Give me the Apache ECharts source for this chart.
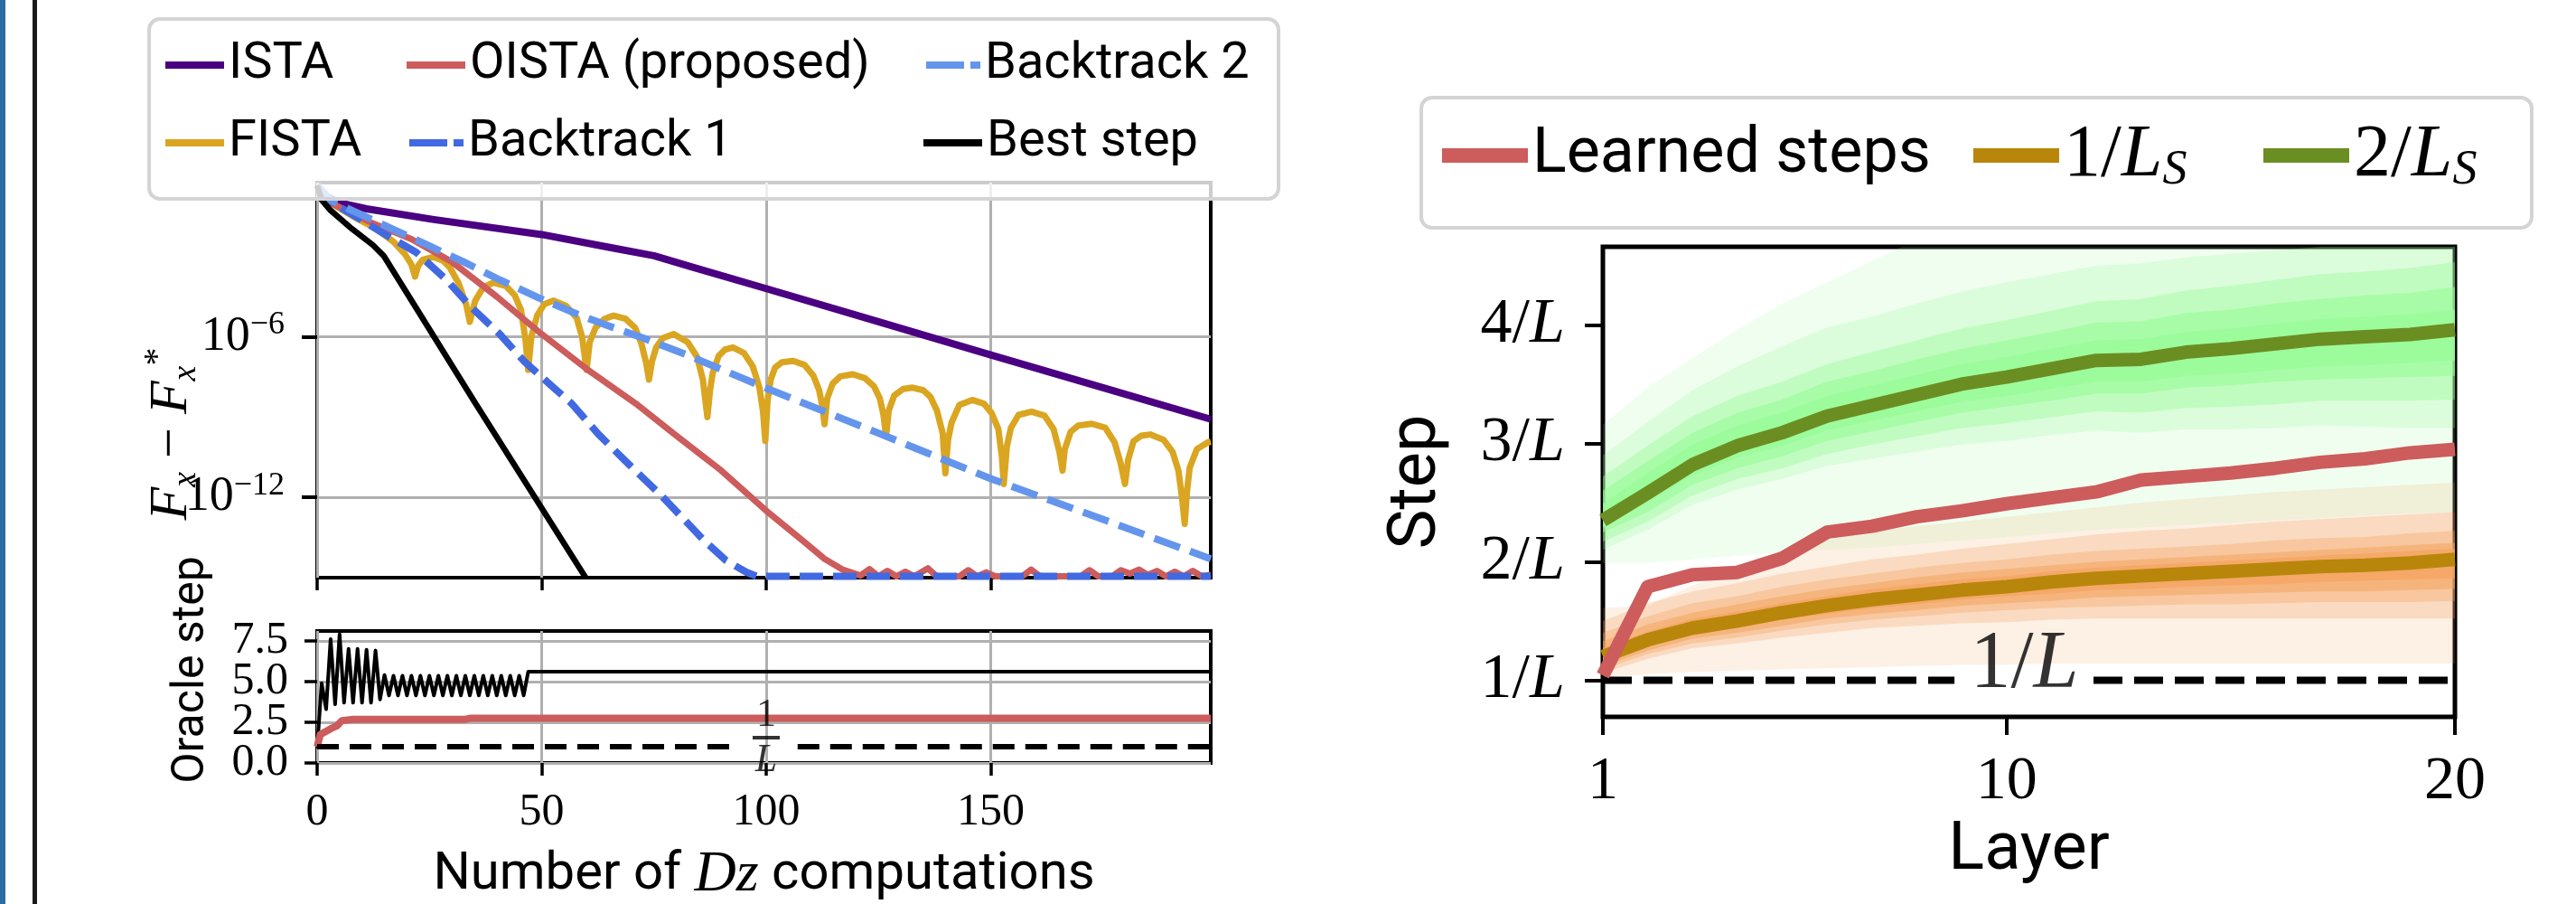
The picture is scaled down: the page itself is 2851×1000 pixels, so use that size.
<!DOCTYPE html>
<html>
<head>
<meta charset="utf-8">
<title>chart</title>
<script src="https://cdn.jsdelivr.net/npm/echarts@6.0.0/dist/echarts.min.js"></script>
<style>
html,body{margin:0;padding:0;background:#ffffff;}
#chart{width:2851px;height:1000px;}
</style>
</head>
<body>
<div id="chart"></div>
<script>
// ---------------- LEFT PANEL DATA ----------------
// y values are log10(F_x - F_x^*), x = number of Dz computations
const istaData = [[0,-0.35],[2,-0.75],[5,-1.0],[11,-1.22],[26,-1.62],[50,-2.18],[66,-2.69],[75,-2.97],[84,-3.42],[100,-4.2],[125,-5.44],[150,-6.68],[175,-7.9],[199,-9.08]];
const fistaData = [[0,-0.35],[3,-1.0],[8,-1.5],[13,-1.95],[17,-2.45],[19.5,-2.9],[21,-3.3],[21.8,-3.75],
[22.5,-3.35],[23.5,-3.12],[25.8,-3.02],[28,-3.15],[29.5,-3.4],[31.5,-4.0],[33.2,-4.8],[34,-5.44],
[35.2,-4.65],[37,-4.15],[39.2,-3.98],[42,-4.1],[44,-4.45],[45.4,-5.0],[46.4,-6.1],[47,-7.24],
[47.7,-6.0],[49,-5.2],[50.6,-4.78],[52.6,-4.65],[55.5,-4.85],[57.8,-5.3],[59,-6.0],[60,-7.24],
[60.7,-6.2],[62,-5.66],[64,-5.33],[66,-5.21],[68.7,-5.33],[70.8,-5.66],[72.2,-6.25],[73.3,-7.0],[73.9,-7.6],
[74.6,-6.9],[75.5,-6.4],[77,-6.05],[79.4,-5.9],[82.5,-6.2],[84.6,-6.75],[85.9,-7.6],[86.9,-9.0],
[87.5,-8.0],[88.1,-7.35],[89.4,-6.72],[90.8,-6.48],[92.6,-6.4],[95,-6.6],[97,-7.1],[98.5,-7.9],[99.3,-8.8],[99.8,-9.89],
[100.3,-8.4],[101,-7.6],[102,-7.15],[103.5,-6.95],[106,-6.9],[108.5,-7.05],[110.5,-7.45],[111.8,-8.0],[112.5,-8.6],[113,-9.27],
[113.6,-8.3],[114.8,-7.75],[116.5,-7.48],[119.3,-7.4],[122,-7.55],[124,-7.85],[125.3,-8.3],[126.1,-8.9],[126.7,-9.72],
[127.3,-8.75],[128.5,-8.2],[130.5,-7.95],[132.6,-7.9],[135,-8.0],[136.6,-8.25],[138,-8.75],[139.3,-9.6],[139.9,-11.1],
[140.5,-9.85],[141.3,-9.2],[143,-8.55],[145.9,-8.36],[148.5,-8.5],[150.2,-8.85],[151.7,-9.45],[152.5,-10.5],[152.9,-11.5],
[153.6,-10.1],[154.5,-9.4],[156.2,-8.92],[159.1,-8.8],[162,-8.95],[164,-9.45],[165.3,-10.3],[166,-11.0],
[166.5,-10.2],[167.8,-9.55],[169.5,-9.32],[172.5,-9.25],[175.5,-9.4],[177.6,-9.95],[178.9,-10.7],[179.9,-11.5],
[180.6,-10.6],[181.8,-9.9],[183.5,-9.7],[185.5,-9.65],[188.5,-9.85],[190.5,-10.3],[191.8,-11.0],[192.6,-12.0],[193.2,-12.99],
[193.7,-11.8],[194.3,-10.9],[195.9,-10.2],[198.3,-9.95],[199,-9.92]];
const oistaData = [[0,-0.35],[3,-1.0],[12,-1.73],[21,-2.35],[30,-3.2],[40,-4.5],[50,-5.9],[60,-7.2],[71,-8.5],[80,-9.7],[90,-11.0],[100,-12.5],[108,-13.6],[113,-14.3],[117,-14.7],
[121,-14.92],[123,-14.68],[125,-14.95],[127,-14.75],[129,-14.95],[131,-14.78],[133,-14.95],[136,-14.65],[138,-14.95],[143,-14.95],[145,-14.72],[147,-14.95],[149,-14.8],[151,-14.95],
[157,-14.95],[159,-14.7],[161,-14.95],[170,-14.95],[172,-14.72],[174,-14.95],[177,-14.95],[179,-14.72],[181,-14.85],[183,-14.7],[185,-14.9],[187,-14.75],[189,-14.95],[191,-14.78],[193,-14.95],[195,-14.75],[197,-14.95],[199,-14.9]];
const backtrack1Data = [[0,-0.35],[3,-0.95],[9,-1.55],[14.4,-2.1],[22.1,-2.85],[28.8,-3.87],[34.2,-4.88],[40.6,-5.89],[46,-6.9],[52.3,-7.85],[56.7,-8.5],[62.7,-9.65],[69,-10.7],[76.1,-11.84],[81,-12.7],[86.1,-13.6],[91,-14.35],[95.6,-14.8],[98,-14.95],[199,-14.95]];
const backtrack2Data = [[0,-0.35],[3,-0.9],[7,-1.22],[15.8,-1.9],[24.5,-2.57],[32.5,-3.19],[40.6,-3.87],[49.3,-4.54],[58,-5.16],[66,-5.66],[72.8,-6.06],[82.2,-6.67],[100,-7.92],[125,-9.6],[150,-11.3],[177.7,-12.99],[199,-14.3]];
const bestStepData = [[0,-0.35],[1,-0.89],[3,-1.28],[7.7,-1.96],[12.4,-2.57],[14.8,-2.97],[35.2,-8.47],[59.8,-15.0]];

// oracle step panel
const oracleBestData = [[0,0.9],[1,4.9],[2,3.3],[3,7.6],[4,3.6],[5,7.9],[6,3.7],[7,7.0],[8,3.7],[9,7.0],[10,3.7],[11,6.95],[12,3.7],[13,6.9],[14,3.9],[15,5.4],
[16,4.15],[17,5.35],[18,4.15],[19,5.35],[20,4.15],[21,5.35],[22,4.15],[23,5.35],[24,4.15],[25,5.35],[26,4.15],[27,5.35],[28,4.15],[29,5.35],[30,4.15],[31,5.35],
[32,4.15],[33,5.35],[34,4.15],[35,5.35],[36,4.15],[37,5.35],[38,4.15],[39,5.35],[40,4.15],[41,5.35],[42,4.15],[43,5.35],[44,4.15],[45,5.35],[46,4.15],[47,5.6],[199,5.6]];
const oracleLearnedData = [[0,1.0],[0.7,1.75],[3,2.1],[4.5,2.3],[5.5,2.6],[8,2.68],[33,2.68],[34,2.74],[199,2.74]];
const oracleInvLData = [[0,1],[93,1],[100,'-'],[107,1],[199,1]];
const oracleInvLLabel = [[100,1]];

const topYTicks = [-12,-6];
const xTicks = [0,50,100,150];
const oracleTicks = [0,2.5,5,7.5];
const oracleLabelsA = [0,5];
const oracleLabelsB = [2.5,7.5];

// ---------------- RIGHT PANEL DATA ----------------
const layers = [1,2,3,4,5,6,7,8,9,10,11,12,13,14,15,16,17,18,19,20];
const learnedSteps = [1.04,1.79,1.89,1.91,2.03,2.25,2.30,2.38,2.43,2.49,2.54,2.59,2.69,2.72,2.75,2.79,2.84,2.87,2.92,2.95];
const oneOverLs = [1.20,1.34,1.44,1.50,1.57,1.63,1.68,1.72,1.76,1.79,1.83,1.86,1.88,1.90,1.92,1.94,1.96,1.97,1.99,2.02];
const twoOverLs = [2.35,2.58,2.82,2.98,3.09,3.23,3.32,3.41,3.50,3.56,3.63,3.70,3.71,3.77,3.80,3.84,3.88,3.90,3.92,3.96];
// quantile bands of 2/L_S (outer -> inner)
const green1Lo = [1.99,1.99,2.02,2.05,2.08,2.10,2.12,2.15,2.18,2.21,2.24,2.27,2.29,2.31,2.33,2.35,2.37,2.39,2.41,2.42];
const green1Hi = [3.16,3.47,3.72,3.96,4.18,4.36,4.54,4.72,4.85,4.95,5.02,5.08,5.12,5.16,5.20,5.22,5.25,5.28,5.30,5.32];
const green2Lo = [2.10,2.27,2.48,2.61,2.70,2.81,2.87,2.93,2.99,3.02,3.07,3.11,3.09,3.12,3.12,3.13,3.15,3.14,3.13,3.13];
const green2Hi = [2.90,3.18,3.45,3.65,3.82,3.98,4.07,4.18,4.28,4.36,4.43,4.50,4.52,4.57,4.60,4.63,4.66,4.68,4.70,4.73];
const green3Lo = [2.17,2.34,2.56,2.70,2.79,2.91,2.99,3.06,3.13,3.17,3.22,3.27,3.26,3.30,3.31,3.33,3.36,3.36,3.36,3.37];
const green3Hi = [2.72,2.98,3.23,3.40,3.52,3.67,3.77,3.87,3.97,4.04,4.12,4.20,4.22,4.29,4.33,4.38,4.43,4.45,4.48,4.53];
const green4Lo = [2.25,2.42,2.65,2.79,2.89,3.02,3.10,3.18,3.26,3.31,3.36,3.42,3.42,3.47,3.49,3.52,3.54,3.55,3.56,3.57];
const green4Hi = [2.60,2.85,3.09,3.26,3.37,3.52,3.61,3.71,3.80,3.87,3.94,4.02,4.03,4.10,4.13,4.18,4.22,4.25,4.27,4.32];
const green5Lo = [2.29,2.50,2.73,2.88,2.98,3.11,3.19,3.27,3.35,3.40,3.46,3.52,3.52,3.57,3.59,3.62,3.65,3.66,3.68,3.70];
const green5Hi = [2.49,2.75,2.99,3.15,3.26,3.40,3.49,3.58,3.67,3.73,3.80,3.87,3.88,3.94,3.97,4.01,4.05,4.07,4.09,4.13];
// quantile bands of 1/L_S (outer -> inner)
const orange1Lo = [1.02,1.05,1.07,1.08,1.09,1.10,1.11,1.12,1.13,1.13,1.14,1.14,1.14,1.14,1.14,1.14,1.14,1.14,1.14,1.14];
const orange1Hi = [1.61,1.63,1.80,1.92,2.02,2.18,2.26,2.30,2.34,2.38,2.42,2.46,2.50,2.53,2.56,2.59,2.61,2.63,2.65,2.67];
const orange2Lo = [1.06,1.18,1.27,1.31,1.36,1.40,1.44,1.46,1.48,1.49,1.51,1.52,1.52,1.52,1.52,1.52,1.52,1.52,1.52,1.52];
const orange2Hi = [1.50,1.65,1.75,1.82,1.90,1.96,2.02,2.06,2.11,2.15,2.19,2.23,2.26,2.28,2.31,2.34,2.36,2.38,2.40,2.42];
const orange3Lo = [1.09,1.22,1.31,1.36,1.42,1.47,1.51,1.54,1.57,1.59,1.61,1.62,1.63,1.64,1.64,1.65,1.66,1.66,1.66,1.67];
const orange3Hi = [1.40,1.54,1.65,1.71,1.79,1.85,1.90,1.95,1.99,2.02,2.06,2.09,2.11,2.13,2.15,2.18,2.20,2.21,2.24,2.26];
const orange4Lo = [1.12,1.25,1.35,1.40,1.46,1.52,1.56,1.59,1.63,1.65,1.67,1.70,1.71,1.72,1.73,1.74,1.75,1.75,1.76,1.77];
const orange4Hi = [1.33,1.47,1.57,1.64,1.71,1.77,1.82,1.87,1.91,1.94,1.97,2.00,2.02,2.04,2.06,2.08,2.10,2.12,2.14,2.16];
const orange5Lo = [1.15,1.29,1.38,1.44,1.51,1.56,1.61,1.64,1.68,1.71,1.73,1.76,1.77,1.79,1.80,1.81,1.83,1.84,1.85,1.86];
const orange5Hi = [1.27,1.41,1.52,1.58,1.65,1.71,1.77,1.81,1.85,1.88,1.92,1.95,1.97,1.99,2.01,2.03,2.05,2.07,2.09,2.11];
const invLLine = [[1,1],[8.84,1],[10.4,'-'],[11.94,1],[20,1]];
const invLLabel = [[10.4,1]];
const layerTicks = [1,10,20];
const stepTicks = [1,2,3,4];

// ---------------- STYLE ----------------
const C = {ista:'#4B0082', fista:'#DAA520', oista:'#CD5C5C', bt1:'#4169E1', bt2:'#6495ED', best:'#000000',
           learned:'#CD5C5C', one:'#B8860B', two:'#6B8E23'};
const SERIF = 'Liberation Serif';
const SANS = 'Roboto';

function pairs(xs, ys){ return xs.map((x,i)=>[x, ys[i]]); }

function lineSeries(name, data, color, width, dash, xi, z){
  return {name, type:'line', xAxisIndex:xi, yAxisIndex:xi, data, showSymbol:false, symbol:'none',
    lineStyle:{color, width, type: dash || 'solid', join:'round', cap:'butt'},
    itemStyle:{color}, z: z || 3, silent:true, animation:false, clip:true};
}

function band(lo, hi, color){
  return {type:'custom', xAxisIndex:2, yAxisIndex:2, silent:true, z:1, animation:false, clip:true,
    data:[0],
    renderItem:function(params, api){
      const pts=[];
      for(let i=0;i<layers.length;i++) pts.push(api.coord([layers[i], hi[i]]));
      for(let i=layers.length-1;i>=0;i--) pts.push(api.coord([layers[i], lo[i]]));
      const cs = params.coordSys;
      return {type:'polygon', shape:{points:pts}, style:{fill:color, stroke:null},
        clipPath:{type:'rect', shape:{x:cs.x, y:cs.y, width:cs.width, height:cs.height}}};
    }};
}
const gA=[0.15,0.23,0.41,0.6,0.8], oA=[0.16,0.27,0.35,0.55,0.72];
const gCol=a=>'rgba(152,251,152,'+a+')', oCol=a=>'rgba(244,164,96,'+a+')';

const legendText = {color:'#000', fontFamily:SANS, fontSize:56, lineHeight:60};
function leftLegend(name, left, top, icon, w){
  return {data:[name], left, top, orient:'horizontal', padding:0, itemGap:0, itemWidth:w||65, itemHeight:8,
    icon, selectedMode:false, z:20, textStyle:legendText, itemStyle:{borderWidth:0}};
}
const solidIcon='path://M0,0H65V8H0Z';
const dashIcon='path://M0,0H42V8H0ZM49,0H60V8H49Z';
const rightRich = {n:{fontFamily:SERIF, fontSize:82, color:'#000', lineHeight:88},
                   i:{fontFamily:SERIF, fontStyle:'italic', fontSize:82, color:'#000', lineHeight:88},
                   s:{fontFamily:SERIF, fontStyle:'italic', fontSize:54, color:'#000', lineHeight:62, verticalAlign:'bottom'}};
function rightLegend(name, left, fmt){
  return {data:[name], left, top:128, padding:0, itemGap:0, itemWidth:95, itemHeight:16,
    icon:'path://M0,0H95V16H0Z', selectedMode:false, z:20, formatter: fmt,
    textStyle:{color:'#000', fontFamily:SANS, fontSize:70, lineHeight:88, rich:rightRich}, itemStyle:{borderWidth:0}};
}
const hiddenItem = {color:'rgba(0,0,0,0)', borderWidth:0};
const oracleLabelStyle = {margin:32, formatter:v=>Number(v).toFixed(1), fontFamily:SERIF, fontSize:50, color:'#000'};

const option = {
  animation:false,
  backgroundColor:'#ffffff',
  textStyle:{fontFamily:SANS, color:'#000'},
  grid:[
    {left:351, top:202, width:989, height:437, show:true, borderColor:'#000', borderWidth:4, backgroundColor:'rgba(0,0,0,0)', outerBoundsMode:'none', containLabel:false},
    {left:351, top:698, width:989, height:146, show:true, borderColor:'#000', borderWidth:4, backgroundColor:'rgba(0,0,0,0)', outerBoundsMode:'none', containLabel:false},
    {left:1774, top:273, width:943, height:520, show:true, borderColor:'#000', borderWidth:5, backgroundColor:'rgba(0,0,0,0)', outerBoundsMode:'none', containLabel:false}
  ],
  xAxis:[
    {gridIndex:0, type:'value', min:0, max:199, interval:50,
     axisLine:{show:false}, axisTick:{show:true, customValues:xTicks, length:14, lineStyle:{color:'#000', width:3.5}},
     axisLabel:{show:false}, splitLine:{show:true, lineStyle:{color:'#b0b0b0', width:3}}},
    {gridIndex:1, type:'value', min:0, max:199, interval:50,
     axisLine:{show:false}, axisTick:{show:true, customValues:xTicks, length:14, lineStyle:{color:'#000', width:3.5}},
     axisLabel:{show:true, customValues:xTicks, margin:30, fontFamily:SERIF, fontSize:50, color:'#000', showMinLabel:true, showMaxLabel:true, hideOverlap:false},
     splitLine:{show:true, lineStyle:{color:'#b0b0b0', width:3}},
     name:'{a|Number of }{i|Dz}{a| computations}', nameLocation:'middle', nameGap:92,
     nameTextStyle:{color:'#000', fontFamily:SANS, fontSize:58, rich:{a:{fontFamily:SANS, fontSize:58, color:'#000'}, i:{fontFamily:SERIF, fontStyle:'italic', fontSize:64, color:'#000'}}}},
    {gridIndex:2, type:'value', min:1, max:20,
     axisLine:{show:false}, axisTick:{show:true, customValues:layerTicks, length:20, lineStyle:{color:'#000', width:4}},
     axisLabel:{show:true, customValues:layerTicks, margin:38, fontFamily:SERIF, fontSize:68, color:'#000', showMinLabel:true, showMaxLabel:true},
     splitLine:{show:false},
     name:'Layer', nameLocation:'middle', nameGap:112, nameTextStyle:{color:'#000', fontFamily:SANS, fontSize:74}}
  ],
  yAxis:[
    {gridIndex:0, type:'value', min:-15, max:-0.24,
     axisLine:{show:false}, axisTick:{show:true, customValues:topYTicks, length:17, lineStyle:{color:'#000', width:4}},
     axisLabel:{show:true, customValues:topYTicks, margin:36, formatter:v=>'{b|10}{s|\u2212'+Math.round(-v)+'}',
       rich:{b:{fontFamily:SERIF, fontSize:54, color:'#000', lineHeight:62},
             s:{fontFamily:SERIF, fontSize:36, color:'#000', lineHeight:40, verticalAlign:'top'}}},
     splitLine:{show:false}},
    {gridIndex:1, type:'value', min:0, max:8.1, interval:2.5,
     axisLine:{show:false}, axisTick:{show:true, customValues:oracleTicks, length:14, lineStyle:{color:'#000', width:3.5}},
     axisLabel:Object.assign({show:true, customValues:oracleLabelsA, showMinLabel:true, showMaxLabel:true}, oracleLabelStyle),
     splitLine:{show:true, lineStyle:{color:'#b0b0b0', width:3}}},
    {gridIndex:2, type:'value', min:0.69, max:4.66,
     axisLine:{show:false}, axisTick:{show:true, customValues:stepTicks, length:20, lineStyle:{color:'#000', width:4}},
     axisLabel:{show:true, customValues:stepTicks, margin:42, formatter:v=>'{n|'+v+'/}{i|L}', showMinLabel:true, showMaxLabel:true,
       rich:{n:{fontFamily:SERIF, fontSize:70, color:'#000'}, i:{fontFamily:SERIF, fontStyle:'italic', fontSize:70, color:'#000'}}},
     splitLine:{show:false},
     name:'Step', nameLocation:'middle', nameGap:168, nameRotate:90, nameTextStyle:{color:'#000', fontFamily:SANS, fontSize:74}},
    // companion axis of the oracle panel carrying the other two tick labels
    {gridIndex:1, type:'value', position:'left', offset:0, min:0, max:8.1, interval:2.5,
     axisLine:{show:false}, axisTick:{show:false}, splitLine:{show:false},
     axisLabel:Object.assign({show:true, customValues:oracleLabelsB, showMinLabel:true, showMaxLabel:true}, oracleLabelStyle)}
  ],
  legend:[
    leftLegend('ISTA', 183, 42, solidIcon),
    leftLegend('FISTA', 183, 128, solidIcon),
    leftLegend('OISTA (proposed)', 450, 42, solidIcon),
    leftLegend('Backtrack 1', 453, 128, dashIcon, 60),
    leftLegend('Backtrack 2', 1025, 42, dashIcon, 60),
    leftLegend('Best step', 1022, 128, solidIcon),
    rightLegend('Learned steps', 1596, null),
    rightLegend('1/L_S', 2184, '{n|1/}{i|L}{s|S}'),
    rightLegend('2/L_S', 2505, '{n|2/}{i|L}{s|S}')
  ],
  graphic:[
    {type:'rect', z:0, shape:{x:0, y:0, width:6, height:1000}, style:{fill:'#2b6ea6'}},
    {type:'rect', z:0, shape:{x:36, y:0, width:5, height:1000}, style:{fill:'#1a1a1a'}},
    {type:'rect', z:10, shape:{x:165, y:21, width:1250, height:199, r:12}, style:{fill:'rgba(255,255,255,0.8)', stroke:'#d4d4d4', lineWidth:4}},
    {type:'rect', z:10, shape:{x:1573, y:108, width:1229, height:144, r:12}, style:{fill:'rgba(255,255,255,0.8)', stroke:'#d4d4d4', lineWidth:4}},
    {type:'text', z:10, x:190, y:480, rotation:Math.PI/2,
     style:{text:'{i|F}{sub|x}{m| \u2212 }{i|F}{sub|x}{sup|*}', align:'center', verticalAlign:'middle', fill:'#000',
       rich:{i:{fontFamily:SERIF, fontStyle:'italic', fontSize:60, lineHeight:70, fill:'#000'},
             m:{fontFamily:SERIF, fontSize:60, lineHeight:70, fill:'#000'},
             sub:{fontFamily:SERIF, fontStyle:'italic', fontSize:38, lineHeight:34, verticalAlign:'bottom', fill:'#000'},
             sup:{fontFamily:SERIF, fontSize:40, lineHeight:40, verticalAlign:'top', fill:'#000'}}}},
    {type:'text', z:10, x:212, y:741, rotation:Math.PI/2,
     style:{text:'Oracle step', align:'center', verticalAlign:'middle', fill:'#000', fontFamily:SANS, fontSize:50}}
  ],
  series:[
    // gridlines of log panel
    {type:'line', name:'_grid', xAxisIndex:0, yAxisIndex:0, data:[], z:1, silent:true,
     markLine:{silent:true, z:1, symbol:['none','none'], label:{show:false}, animation:false,
       lineStyle:{color:'#b0b0b0', width:3, type:'solid'}, data:[{yAxis:-6},{yAxis:-12}]}},
    lineSeries('ISTA', istaData, C.ista, 8, null, 0),
    lineSeries('FISTA', fistaData, C.fista, 7, null, 0),
    lineSeries('OISTA (proposed)', oistaData, C.oista, 7, null, 0),
    lineSeries('Backtrack 1', backtrack1Data, C.bt1, 8, [26,11], 0),
    lineSeries('Backtrack 2', backtrack2Data, C.bt2, 8, [30,12], 0),
    lineSeries('Best step', bestStepData, C.best, 6.5, null, 0),
    // oracle
    lineSeries('_oracleBest', oracleBestData, '#000', 4, null, 1),
    lineSeries('_oracleLearned', oracleLearnedData, C.oista, 8, null, 1),
    lineSeries('_oracleInvL', oracleInvLData, '#000', 6, [24,12], 1),
    {type:'scatter', name:'_lbl1', xAxisIndex:1, yAxisIndex:1, data:oracleInvLLabel, symbol:'circle', symbolSize:2, itemStyle:hiddenItem, z:6, silent:true, clip:false,
     label:{show:true, position:'inside', offset:[0,-10], formatter:'{n|1}\n{b| }\n{d|L}', color:'#000',
       rich:{n:{fontFamily:SERIF, fontSize:44, lineHeight:36, color:'#000', align:'center'},
             b:{width:30, height:4, backgroundColor:'#000', lineHeight:14, fontSize:4, align:'center'},
             d:{fontFamily:SERIF, fontStyle:'italic', fontSize:44, lineHeight:36, color:'#000', align:'center'}}}},
    // right panel bands
    band(green1Lo, green1Hi, gCol(gA[0])), band(green2Lo, green2Hi, gCol(gA[1])), band(green3Lo, green3Hi, gCol(gA[2])),
    band(green4Lo, green4Hi, gCol(gA[3])), band(green5Lo, green5Hi, gCol(gA[4])),
    band(orange1Lo, orange1Hi, oCol(oA[0])), band(orange2Lo, orange2Hi, oCol(oA[1])), band(orange3Lo, orange3Hi, oCol(oA[2])),
    band(orange4Lo, orange4Hi, oCol(oA[3])), band(orange5Lo, orange5Hi, oCol(oA[4])),
    lineSeries('_invL', invLLine, '#000', 8, [32,13], 2, 3),
    lineSeries('2/L_S', pairs(layers, twoOverLs), C.two, 15, null, 2, 4),
    lineSeries('1/L_S', pairs(layers, oneOverLs), C.one, 15, null, 2, 4),
    lineSeries('Learned steps', pairs(layers, learnedSteps), C.learned, 15, null, 2, 5),
    {type:'scatter', name:'_lbl2', xAxisIndex:2, yAxisIndex:2, data:invLLabel, symbol:'circle', symbolSize:2, itemStyle:hiddenItem, z:6, silent:true, clip:false,
     label:{show:true, position:'inside', offset:[0,-16], formatter:'{n|1/}{i|L}', color:'#000',
       rich:{n:{fontFamily:SERIF, fontSize:90, color:'#000'}, i:{fontFamily:SERIF, fontStyle:'italic', fontSize:90, color:'#000'}}}}
  ]
};

const chart = echarts.init(document.getElementById('chart'), null, {renderer:'canvas', width:2851, height:1000});
chart.setOption(option);
</script>
</body>
</html>
